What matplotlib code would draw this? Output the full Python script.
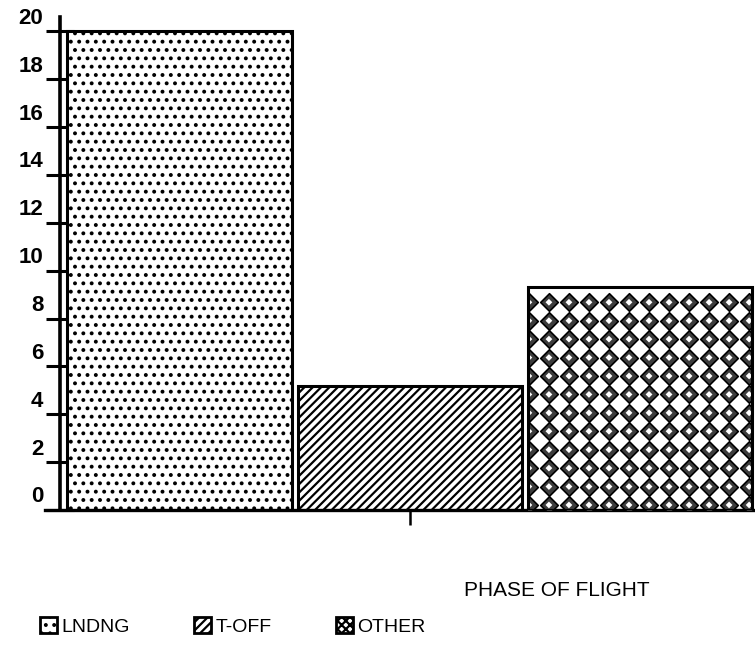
import numpy as np
import matplotlib
matplotlib.use("Agg")
import matplotlib.pyplot as plt
import matplotlib.transforms as mtransforms
from matplotlib.patches import Patch

plt.rcParams['font.family'] = ['Liberation Sans', 'DejaVu Sans']
plt.rcParams['hatch.linewidth'] = 1.6

phases = ["LNDNG", "T-OFF", "OTHER"]
counts = [20, 5.2, 9.3]
yticks = [0, 2, 4, 6, 8, 10, 12, 14, 16, 18, 20]
xlabel = "PHASE OF FLIGHT"

fig = plt.figure(figsize=(7.55, 6.52), dpi=100)
ax = fig.add_axes([60 / 755, 142 / 652, 695 / 755, 493 / 652])

x = np.arange(len(phases))
bars = ax.bar(x, counts, width=0.975, facecolor="white", edgecolor="black",
              linewidth=2.2, zorder=2)
bars[0].set_hatch("..")
bars[1].set_hatch("////")

# diamond texture inside the OTHER bar
b = bars[2]
x0, x1 = b.get_x(), b.get_x() + b.get_width()
top = b.get_height()
xs = np.arange(x0 + 0.005, x1 + 0.05, 0.087)
ys = np.arange(top - 0.62, 0, -0.77)
gx, gy = np.meshgrid(xs, ys)
dia = ax.scatter(gx.ravel(), gy.ravel(), marker="D", s=80, facecolor="#3c3c3c",
                 edgecolor="black", linewidth=1.2, zorder=3)
dia.set_clip_path(b)
dots = ax.scatter(gx.ravel(), gy.ravel(), marker="D", s=12, facecolor="white",
                  edgecolor="none", zorder=4)
dots.set_clip_path(b)
b.set_zorder(5)
b.set_facecolor("none")

ax.set_xlim(-0.52, 2.50)
ax.set_ylim(0, 20.6)

for s in ["top", "right"]:
    ax.spines[s].set_visible(False)
ax.spines["left"].set_linewidth(2.6)
ax.spines["bottom"].set_linewidth(2.4)
ax.spines["bottom"].set_bounds(-0.585, 2.50)

ax.set_yticks(yticks)
ax.set_yticklabels([])
ax.tick_params(axis="y", direction="inout", length=20, width=2.2)
ax.set_xticks([1])
ax.set_xticklabels([])
ax.tick_params(axis="x", direction="inout", length=22, width=1.8)

# value labels sit a little above each tick
off = mtransforms.offset_copy(ax.get_yaxis_transform(), fig=fig, x=0, y=13, units="dots")
for v in yticks:
    ax.text(-0.024, v, str(v), transform=off, ha="right", va="center",
            fontsize=16, fontweight="bold")

fig.text(464 / 755, 1 - 590 / 652, xlabel, fontsize=15, ha="left", va="center")

handles = [Patch(facecolor="white", edgecolor="black", hatch="..", linewidth=2),
           Patch(facecolor="white", edgecolor="black", hatch="////", linewidth=2),
           Patch(facecolor="white", edgecolor="black", hatch="xxxx", linewidth=2)]
fig.legend(handles, phases, loc="upper left", bbox_to_anchor=(32 / 755, 1 - 609 / 652),
           ncol=3, frameon=False, handlelength=0.9, handleheight=0.9,
           handletextpad=0.2, columnspacing=3.3, fontsize=14, borderaxespad=0)

fig.savefig("out.png", dpi=100)
